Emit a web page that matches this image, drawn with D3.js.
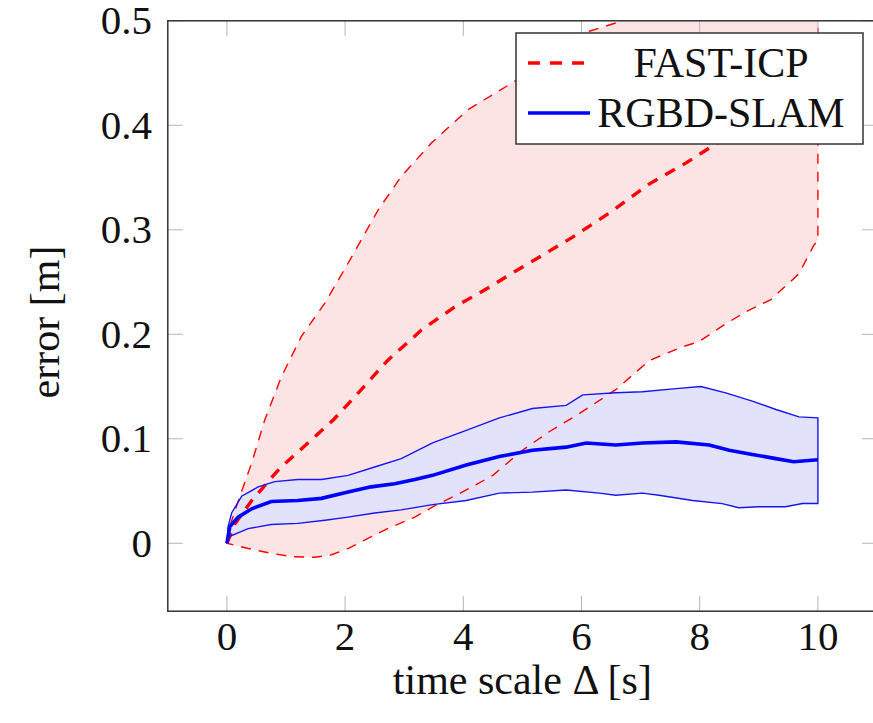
<!DOCTYPE html>
<html>
<head>
<meta charset="utf-8">
<script src="https://cdn.jsdelivr.net/npm/d3@7.9.0/dist/d3.min.js"></script>
<style>
  body { margin: 0; background: #fff; }
  svg text { font-family: "Liberation Serif", "DejaVu Serif", serif; fill: #111; }
</style>
</head>
<body>
<svg id="chart"></svg>
<script>
// ticks
const xTicks = [0, 2, 4, 6, 8, 10];
const yTicks = [0, 0.1, 0.2, 0.3, 0.4, 0.5];

// FAST-ICP: mean and band
const fastMeanX = [0, 0.14, 0.42, 0.9, 1.43, 1.8, 2.16, 2.72, 3.29, 3.85, 4.47, 4.81, 5.29, 5.85, 6.47, 7.15, 7.77, 8.21, 9.0, 10];
const fastMeanY = [0, 0.019, 0.041, 0.072, 0.099, 0.118, 0.140, 0.175, 0.204, 0.226, 0.246, 0.258, 0.274, 0.293, 0.316, 0.344, 0.364, 0.380, 0.41, 0.44];

const fastUpX = [0, 0.03, 0.22, 0.42, 0.64, 0.92, 1.26, 1.66, 2.05, 2.56, 2.95, 3.46, 4.08, 4.81, 5.5, 6.13, 6.64, 7.5, 8.5, 10];
const fastUpY = [0, 0.013, 0.045, 0.077, 0.118, 0.159, 0.198, 0.230, 0.268, 0.319, 0.351, 0.383, 0.415, 0.440, 0.466, 0.490, 0.499, 0.52, 0.54, 0.57];

const fastLoX = [0, 0.36, 0.75, 1.09, 1.49, 1.77, 2.05, 2.33, 2.72, 3.18, 3.49, 4.05, 4.5, 5.0, 5.46, 5.96, 6.58, 7.15, 7.71, 7.99, 8.44, 8.83, 9.2, 9.68, 9.93, 10];
const fastLoY = [0, -0.005, -0.0096, -0.0128, -0.0134, -0.011, -0.005, 0.003, 0.014, 0.025, 0.035, 0.051, 0.065, 0.089, 0.107, 0.124, 0.147, 0.175, 0.188, 0.193, 0.210, 0.223, 0.233, 0.258, 0.285, 0.29];

// RGBD-SLAM: mean and band
const rgbdMeanX = [0, 0.05, 0.19, 0.42, 0.75, 1.2, 1.6, 2.05, 2.44, 2.84, 3.18, 3.48, 4.05, 4.61, 5.17, 5.74, 6.08, 6.58, 7.03, 7.6, 8.16, 8.5, 8.89, 9.29, 9.59, 10];
const rgbdMeanY = [0, 0.016, 0.025, 0.033, 0.040, 0.041, 0.043, 0.049, 0.054, 0.057, 0.061, 0.065, 0.075, 0.083, 0.089, 0.092, 0.096, 0.094, 0.096, 0.097, 0.094, 0.089, 0.085, 0.081, 0.078, 0.080];

const rgbdUpX = [0, 0.02, 0.08, 0.25, 0.53, 0.81, 1.2, 1.6, 2.05, 2.5, 2.95, 3.48, 4.05, 4.61, 5.17, 5.74, 6.02, 6.58, 7.03, 7.6, 8.02, 8.44, 8.89, 9.29, 9.68, 10];
const rgbdUpY = [0, 0.016, 0.029, 0.045, 0.054, 0.059, 0.061, 0.061, 0.065, 0.073, 0.081, 0.096, 0.108, 0.120, 0.129, 0.132, 0.142, 0.144, 0.145, 0.148, 0.150, 0.144, 0.136, 0.128, 0.121, 0.120];

const rgbdLoX = [0, 0.02, 0.36, 0.75, 1.2, 1.66, 2.05, 2.5, 2.95, 3.48, 4.05, 4.61, 5.17, 5.74, 6.3, 6.58, 7.03, 7.31, 7.88, 8.38, 8.66, 9.0, 9.45, 9.74, 10];
const rgbdLoY = [0, 0.006, 0.014, 0.018, 0.019, 0.022, 0.025, 0.029, 0.032, 0.037, 0.041, 0.048, 0.049, 0.051, 0.048, 0.046, 0.048, 0.046, 0.041, 0.038, 0.034, 0.035, 0.035, 0.038, 0.038];

const W = 873, H = 723;
const plotL = 167.8, plotR = 877, plotT = 20.8, plotB = 611.2;

const x = d3.scaleLinear().domain([-1, 11]).range([plotL, plotR]);
const y = d3.scaleLinear().domain([-0.065, 0.5]).range([plotB, plotT]);

const svg = d3.select('#chart').attr('width', W).attr('height', H);

svg.append('defs').append('clipPath').attr('id', 'plot')
  .append('rect')
  .attr('x', plotL).attr('y', plotT)
  .attr('width', plotR - plotL).attr('height', plotB - plotT);

const zip = (xs, ys) => xs.map((v, i) => [v, ys[i]]);
const line = d3.line().x(d => x(d[0])).y(d => y(d[1]));
// band outline: upper curve forward, lower curve back
const band = (ux, uy, lx, ly) => line(zip(ux, uy).concat(zip(lx, ly).reverse())) + 'Z';

const g = svg.append('g').attr('clip-path', 'url(#plot)');

g.append('path')
  .attr('d', band(fastUpX, fastUpY, fastLoX, fastLoY))
  .attr('fill', '#fde4e4').attr('stroke', 'none');

g.append('path')
  .attr('d', band(rgbdUpX, rgbdUpY, rgbdLoX, rgbdLoY))
  .attr('fill', '#e2e2fa').attr('stroke', 'none');

g.append('path')
  .attr('d', band(fastUpX, fastUpY, fastLoX, fastLoY))
  .attr('fill', 'none').attr('stroke', '#f00')
  .attr('stroke-width', 1.4).attr('stroke-dasharray', '10 8');

g.append('path')
  .attr('d', line(zip(fastMeanX, fastMeanY)))
  .attr('fill', 'none').attr('stroke', '#f00')
  .attr('stroke-width', 3.4).attr('stroke-dasharray', '11 9');

g.append('path')
  .attr('d', band(rgbdUpX, rgbdUpY, rgbdLoX, rgbdLoY))
  .attr('fill', 'none').attr('stroke', '#1515f0')
  .attr('stroke-width', 1.4);

g.append('path')
  .attr('d', line(zip(rgbdMeanX, rgbdMeanY)))
  .attr('fill', 'none').attr('stroke', '#00f')
  .attr('stroke-width', 3.6);

// ticks, inside on all four sides
const tickLen = 15;
const ticks = svg.append('g').attr('stroke', '#b5b5b5').attr('stroke-width', 1);
xTicks.forEach(t => {
  ticks.append('line').attr('x1', x(t)).attr('x2', x(t)).attr('y1', plotB).attr('y2', plotB - tickLen);
  ticks.append('line').attr('x1', x(t)).attr('x2', x(t)).attr('y1', plotT).attr('y2', plotT + tickLen);
});
yTicks.forEach(t => {
  ticks.append('line').attr('y1', y(t)).attr('y2', y(t)).attr('x1', plotL).attr('x2', plotL + tickLen);
  ticks.append('line').attr('y1', y(t)).attr('y2', y(t)).attr('x1', plotR).attr('x2', plotR - tickLen);
});

svg.append('rect')
  .attr('x', plotL).attr('y', plotT)
  .attr('width', plotR - plotL).attr('height', plotB - plotT)
  .attr('fill', 'none').attr('stroke', '#333').attr('stroke-width', 1.5);

// tick labels
svg.append('g').selectAll('text').data(xTicks).join('text')
  .attr('x', d => x(d)).attr('y', 650)
  .attr('text-anchor', 'middle').attr('font-size', 41)
  .text(d => d);

svg.append('g').selectAll('text').data(yTicks).join('text')
  .attr('x', 152).attr('y', d => y(d))
  .attr('dy', '0.33em')
  .attr('text-anchor', 'end').attr('font-size', 41)
  .text(d => d === 0 ? '0' : d3.format('.1f')(d));

// axis labels
svg.append('text')
  .attr('x', (x(0) + x(10)) / 2).attr('y', 694)
  .attr('text-anchor', 'middle').attr('font-size', 42)
  .text('time scale Δ [s]');

svg.append('text')
  .attr('transform', `translate(59, ${(plotT + plotB) / 2 + 6}) rotate(-90)`)
  .attr('text-anchor', 'middle').attr('font-size', 42)
  .text('error [m]');

// legend
const legend = svg.append('g');
legend.append('rect')
  .attr('x', 516).attr('y', 33).attr('width', 347).attr('height', 111)
  .attr('fill', '#fff').attr('stroke', '#333').attr('stroke-width', 1.5);

const legendItems = [
  { label: 'FAST-ICP', color: '#f00', dash: '12 10', cy: 63 },
  { label: 'RGBD-SLAM', color: '#00f', dash: null, cy: 113 }
];
legendItems.forEach(d => {
  legend.append('line')
    .attr('x1', 528).attr('x2', 590).attr('y1', d.cy).attr('y2', d.cy)
    .attr('stroke', d.color).attr('stroke-width', 3.5)
    .attr('stroke-dasharray', d.dash);
  legend.append('text')
    .attr('x', 721).attr('y', d.cy + 14)
    .attr('text-anchor', 'middle').attr('font-size', 42)
    .text(d.label);
});
</script>
</body>
</html>
